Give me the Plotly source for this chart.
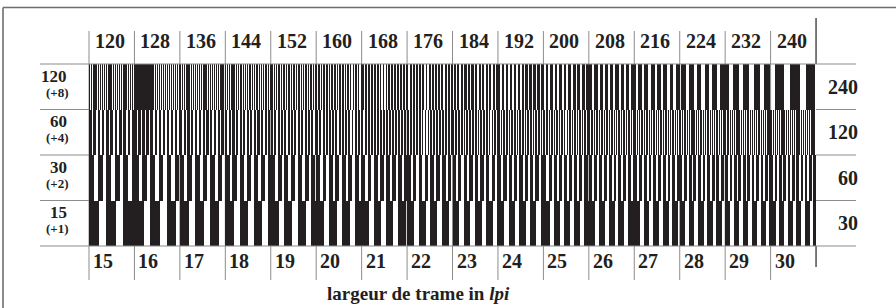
import plotly.graph_objects as go

# ---------------- data ----------------
bottom_lpi = [15, 16, 17, 18, 19, 20, 21, 22, 23, 24, 25, 26, 27, 28, 29, 30]
top_lpi = [120, 128, 136, 144, 152, 160, 168, 176, 184, 192, 200, 208, 216, 224, 232, 240]
row_base = [15, 30, 60, 120]        # left labels (bottom -> top)
row_step = ["(+1)", "(+2)", "(+4)", "(+8)"]
row_mult = [1, 2, 4, 8]
row_end = [30, 60, 120, 240]        # right labels
axis_title = "largeur de trame in <i>lpi</i>"

# ---------------- geometry / style ----------------
W, H = 896, 308
X0PX, CW = 89.0, 45.44      # left edge of grid, column width (px)
Y0PX, RH = 246.0, 45.5      # bottom of pattern, row height (px)
CELL_IN = 0.177             # physical cell width in inches
DUTY = 0.6
INK = "#231f20"
INK_BAR = "rgba(35,31,32,0.999)"
GRID = "#8c8c8c"
FONT = "Liberation Serif"

def px2x(p):
    return (p - X0PX) / CW

def px2y(p):
    return (Y0PX - p) / RH

fig = go.Figure()

ncol = len(bottom_lpi)
for r, mult in enumerate(row_mult):
    xs, ws = [], []
    for c in range(ncol):
        f = bottom_lpi[c] * mult
        n = f * CELL_IN
        p = 1.0 / n
        k = 0
        while k * p < 1.0 - 1e-9:
            a = c + k * p
            b = min(a + DUTY * p, c + 1.0)
            xs.append((a + b) / 2)
            ws.append(b - a)
            k += 1
    fig.add_trace(go.Bar(
        x=xs, y=[1.0] * len(xs), base=[r] * len(xs), width=ws,
        marker=dict(color=INK_BAR, line=dict(width=0)),
        hoverinfo="skip", showlegend=False,
    ))

shapes = []
# grey separators at column boundaries (below the stripes)
for c in range(ncol):
    shapes.append(dict(type="line", x0=c, x1=c, y0=px2y(31), y1=px2y(280),
                       line=dict(color=GRID, width=1), layer="below"))
# right edge black lines
shapes.append(dict(type="line", x0=ncol, x1=ncol, y0=px2y(18), y1=4,
                   line=dict(color="#222", width=1.2)))
shapes.append(dict(type="line", x0=ncol, x1=ncol, y0=0, y1=px2y(267),
                   line=dict(color="#222", width=1.2)))
# horizontal row separators
for r in range(5):
    if r in (0, 4):
        shapes.append(dict(type="line", x0=px2x(40), x1=px2x(856), y0=r, y1=r,
                           line=dict(color=GRID, width=1.2)))
    else:
        shapes.append(dict(type="line", x0=px2x(40), x1=0, y0=r, y1=r,
                           line=dict(color=GRID, width=1.2)))
        shapes.append(dict(type="line", x0=ncol, x1=px2x(856), y0=r, y1=r,
                           line=dict(color=GRID, width=1.2)))
# outer frame (top + left)
shapes.append(dict(type="line", x0=px2x(3), x1=px2x(900), y0=px2y(7.5), y1=px2y(7.5),
                   line=dict(color="#6e6e6e", width=1.6)))
shapes.append(dict(type="line", x0=px2x(3), x1=px2x(3), y0=px2y(7.5), y1=px2y(320),
                   line=dict(color="#6e6e6e", width=1.6)))

ann = []
hdr_font = dict(family=FONT, size=20, color=INK)
for c in range(ncol):
    ann.append(dict(x=c + px2x(X0PX + 4), y=px2y(41), text="<b>%d</b>" % top_lpi[c],
                    xanchor="left", yanchor="middle", showarrow=False, font=hdr_font))
    ann.append(dict(x=c + px2x(X0PX + 2), y=px2y(261), text="<b>%d</b>" % bottom_lpi[c],
                    xanchor="left", yanchor="middle", showarrow=False, font=hdr_font))
for r in range(4):
    top = r + 1
    ann.append(dict(x=px2x(69), y=top - 12 / RH, text="<b>%d</b>" % row_base[r],
                    xanchor="right", yanchor="middle", showarrow=False,
                    font=dict(family=FONT, size=17, color=INK)))
    ann.append(dict(x=px2x(71), y=top - 28 / RH, text="<b>%s</b>" % row_step[r],
                    xanchor="right", yanchor="middle", showarrow=False,
                    font=dict(family=FONT, size=13, color=INK)))
    ann.append(dict(x=px2x(860), y=r + 0.5, text="<b>%d</b>" % row_end[r],
                    xanchor="right", yanchor="middle", showarrow=False, font=hdr_font))
ann.append(dict(x=px2x(418), y=px2y(293), text="<b>%s</b>" % axis_title,
                xanchor="center", yanchor="middle", showarrow=False,
                font=dict(family=FONT, size=19, color=INK)))

fig.update_layout(
    width=W, height=H, margin=dict(l=0, r=0, t=0, b=0),
    paper_bgcolor="white", plot_bgcolor="white",
    barmode="overlay", bargap=0, bargroupgap=0,
    xaxis=dict(range=[px2x(0), px2x(W)], visible=False, fixedrange=True),
    yaxis=dict(range=[px2y(H), px2y(0)], visible=False, fixedrange=True),
    shapes=shapes, annotations=ann,
)

fig.write_html("out.html", config={"displayModeBar": False},
               post_script="document.body.style.margin='0px';")
